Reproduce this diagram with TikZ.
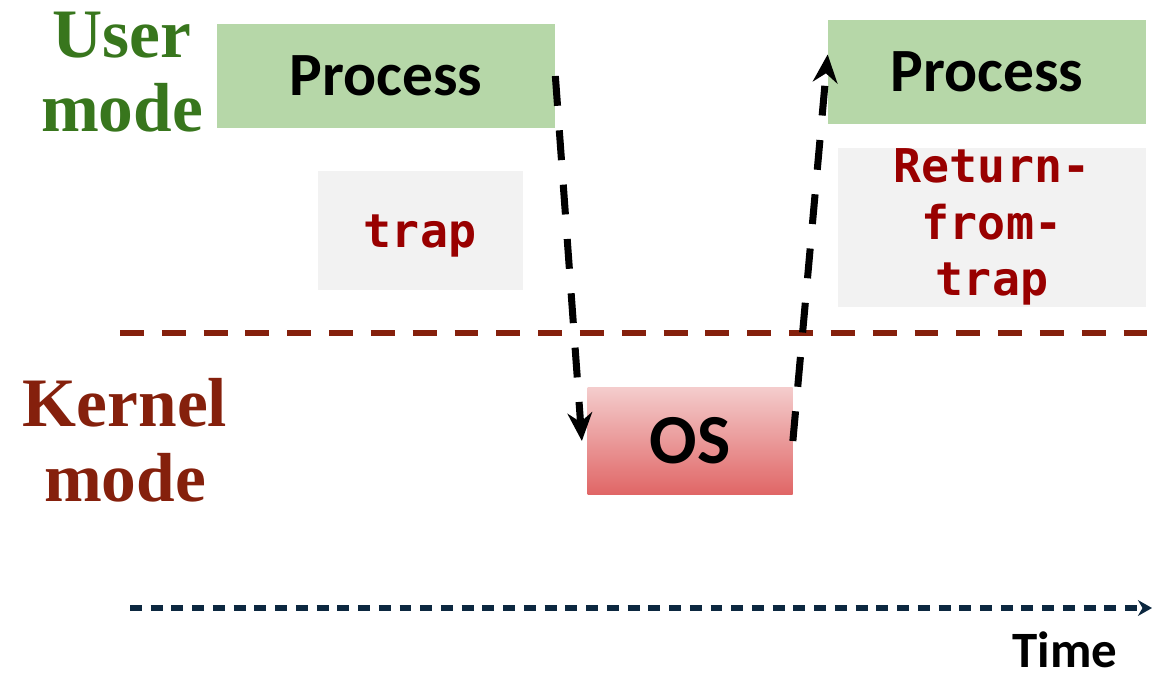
\documentclass[tikz,border=0pt]{standalone}
\usepackage{fontspec}
\setmainfont{Liberation Serif}
\setmonofont{DejaVu Sans Mono}
\newfontfamily\procfont{Carlito}
\usetikzlibrary{arrows.meta}

\definecolor{usergreen}{RGB}{56,118,29}
\definecolor{kernred}{RGB}{133,32,12}
\definecolor{boxgreen}{RGB}{182,215,168}
\definecolor{boxgray}{RGB}{242,242,242}
\definecolor{trapred}{RGB}{153,0,0}
\definecolor{ostop}{RGB}{244,204,204}
\definecolor{osbot}{RGB}{224,102,102}
\definecolor{timenavy}{RGB}{12,40,64}

\tikzset{
    procbox/.style={fill=boxgreen, minimum width=338*0.02cm, minimum height=104*0.02cm,
        font=\procfont\bfseries\fontsize{35}{40}\selectfont},
    instbox/.style={fill=boxgray, text=trapred, align=center, inner sep=0pt,
        font=\ttfamily\bfseries\fontsize{26.5}{32}\selectfont},
    modelabel/.style={align=center, font=\bfseries\fontsize{39.5}{42.5}\selectfont},
    switcharrow/.style={line width=4pt, dash pattern=on 17pt off 14pt, -{Stealth[length=16pt,width=14pt]}}
}

\begin{document}
\begin{tikzpicture}[x=0.02cm, y=-0.02cm]
        \useasboundingbox (0,0) rectangle (1152,677);
        % mode labels
        \node[modelabel, text=usergreen] (user) at (122,72) {User\\mode};
        \node[modelabel, text=kernred] (kernel) at (125,440) {Kernel\\mode};
        % boxes
        \node[procbox] (proc1) at (386,76) {Process};
        \node[procbox, minimum width=318*0.02cm] (proc2) at (987,72) {Process};
        \node[instbox, minimum width=205*0.02cm, minimum height=119*0.02cm] (trap) at (420,230) {\raisebox{-10pt}[0pt][0pt]{trap}};
        \node[instbox, minimum width=308*0.02cm, minimum height=159*0.02cm] (rft) at (992,227) {Return-\\from-\\trap};
        \node[top color=ostop, bottom color=osbot, minimum width=205*0.02cm, minimum height=107*0.02cm,
            font=\procfont\bfseries\fontsize{40}{44}\selectfont] (os) at (690,441) {OS};
        % user/kernel boundary
        \coordinate (bl) at (120,333);
        \coordinate (br) at (1152,333);
        \draw[kernred, line width=3pt, dash pattern=on 13.6pt off 10.2pt] (bl) -- (br);
        % mode switches
        \draw[switcharrow] (proc1.east) -- ([xshift=-3]os.west);
        \draw[switcharrow] (os.east) -- ([yshift=10]proc2.west);
        % time axis
        \coordinate (t0) at (130,608);
        \coordinate (t1) at (1152,608);
        \draw[timenavy, line width=3.4pt, dash pattern=on 6.8pt off 5pt, -{Stealth[length=8pt,width=9pt]}] (t0) -- (t1);
        \node[inner sep=0pt, font=\procfont\bfseries\fontsize{29}{32}\selectfont] (time) at (1065,650) {Time};
    \end{tikzpicture}
\end{document}
